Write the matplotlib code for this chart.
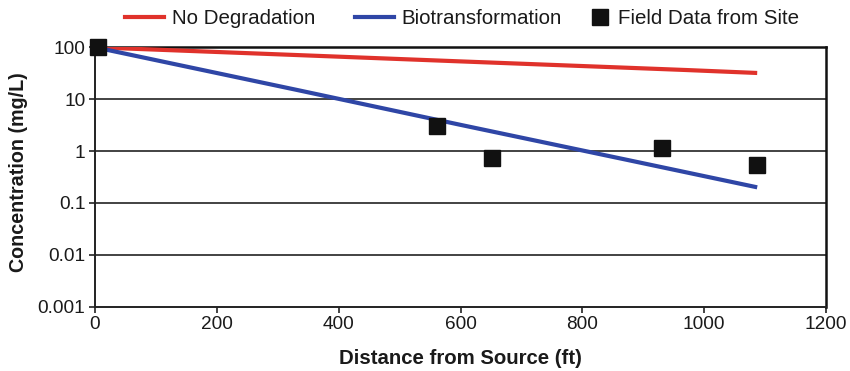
import matplotlib.pyplot as plt
from matplotlib.lines import Line2D
from matplotlib.ticker import FixedLocator, FixedFormatter, NullLocator

plt.rcParams['font.family'] = ['Liberation Sans', 'DejaVu Sans']

# 模型曲线（距离 ft，浓度 mg/L）
model_x = [0, 330, 600, 870, 970, 1087]
no_degradation = [100, 71, 53.5, 40.5, 36.5, 32]
biotransformation = [100, 15.2, 3.2, 0.69, 0.39, 0.2]

# 现场数据
field_x = [5, 562, 652, 931, 1087]
field_y = [100, 3.0, 0.73, 1.14, 0.53]

x_ticks = [0, 200, 400, 600, 800, 1000, 1200]
y_ticks = [0.001, 0.01, 0.1, 1, 10, 100]
y_tick_labels = ['0.001', '0.01', '0.1', '1', '10', '100']

RED = '#E0322B'
BLUE = '#2F46A6'
INK = '#1a1a1a'

fig = plt.figure(figsize=(8.5, 3.71), dpi=100)
ax = fig.add_axes([0.1118, 0.1733, 0.8600, 0.6992])

ax.plot(model_x, no_degradation, color=RED, lw=3, solid_capstyle='butt', zorder=3)
ax.plot(model_x, biotransformation, color=BLUE, lw=3, solid_capstyle='butt', zorder=3)
ax.plot(field_x, field_y, ls='none', marker='s', ms=12, color='#111111',
        clip_on=False, zorder=4)

ax.set_yscale('log')
ax.set_xlim(0, 1200)
ax.set_ylim(0.001, 100)

ax.xaxis.set_major_locator(FixedLocator(x_ticks))
ax.yaxis.set_major_locator(FixedLocator(y_ticks))
ax.yaxis.set_major_formatter(FixedFormatter(y_tick_labels))
ax.yaxis.set_minor_locator(NullLocator())
ax.tick_params(axis='both', labelsize=13.7, length=4, width=1.2, color='#222222',
               labelcolor=INK, pad=3)

for y in y_ticks[1:-1]:
    ax.axhline(y, color='#222222', lw=1.2, zorder=1)

for side in ['left', 'bottom']:
    ax.spines[side].set_linewidth(1.4)
    ax.spines[side].set_color('#222222')
for side in ['top', 'right']:
    ax.spines[side].set_linewidth(1.8)
    ax.spines[side].set_color('#111111')

ax.set_xlabel('Distance from Source (ft)', fontsize=14.7, fontweight='bold',
              color=INK, labelpad=11)
ax.set_ylabel('Concentration (mg/L)', fontsize=14.2, fontweight='bold',
              color=INK, labelpad=7)
ax.yaxis.label.set_y(0.517)

# 图例：三项分开放置，方块标记的句柄更短
legend_items = [
    (Line2D([], [], color=RED, lw=3), 'No Degradation', 0.147, 1.9),
    (Line2D([], [], color=BLUE, lw=3), 'Biotransformation', 0.4176, 1.9),
    (Line2D([], [], ls='none', marker='s', ms=12, color='#111111'),
     'Field Data from Site', 0.6935, 1.0),
]
for handle, label, x0, hlen in legend_items:
    leg = fig.legend([handle], [label], loc='center left', bbox_to_anchor=(x0, 0.949),
                     frameon=False, fontsize=14.8, handlelength=hlen,
                     handletextpad=0.38, borderpad=0, borderaxespad=0)
    for t in leg.get_texts():
        t.set_color(INK)

fig.savefig('out.png', dpi=100)
